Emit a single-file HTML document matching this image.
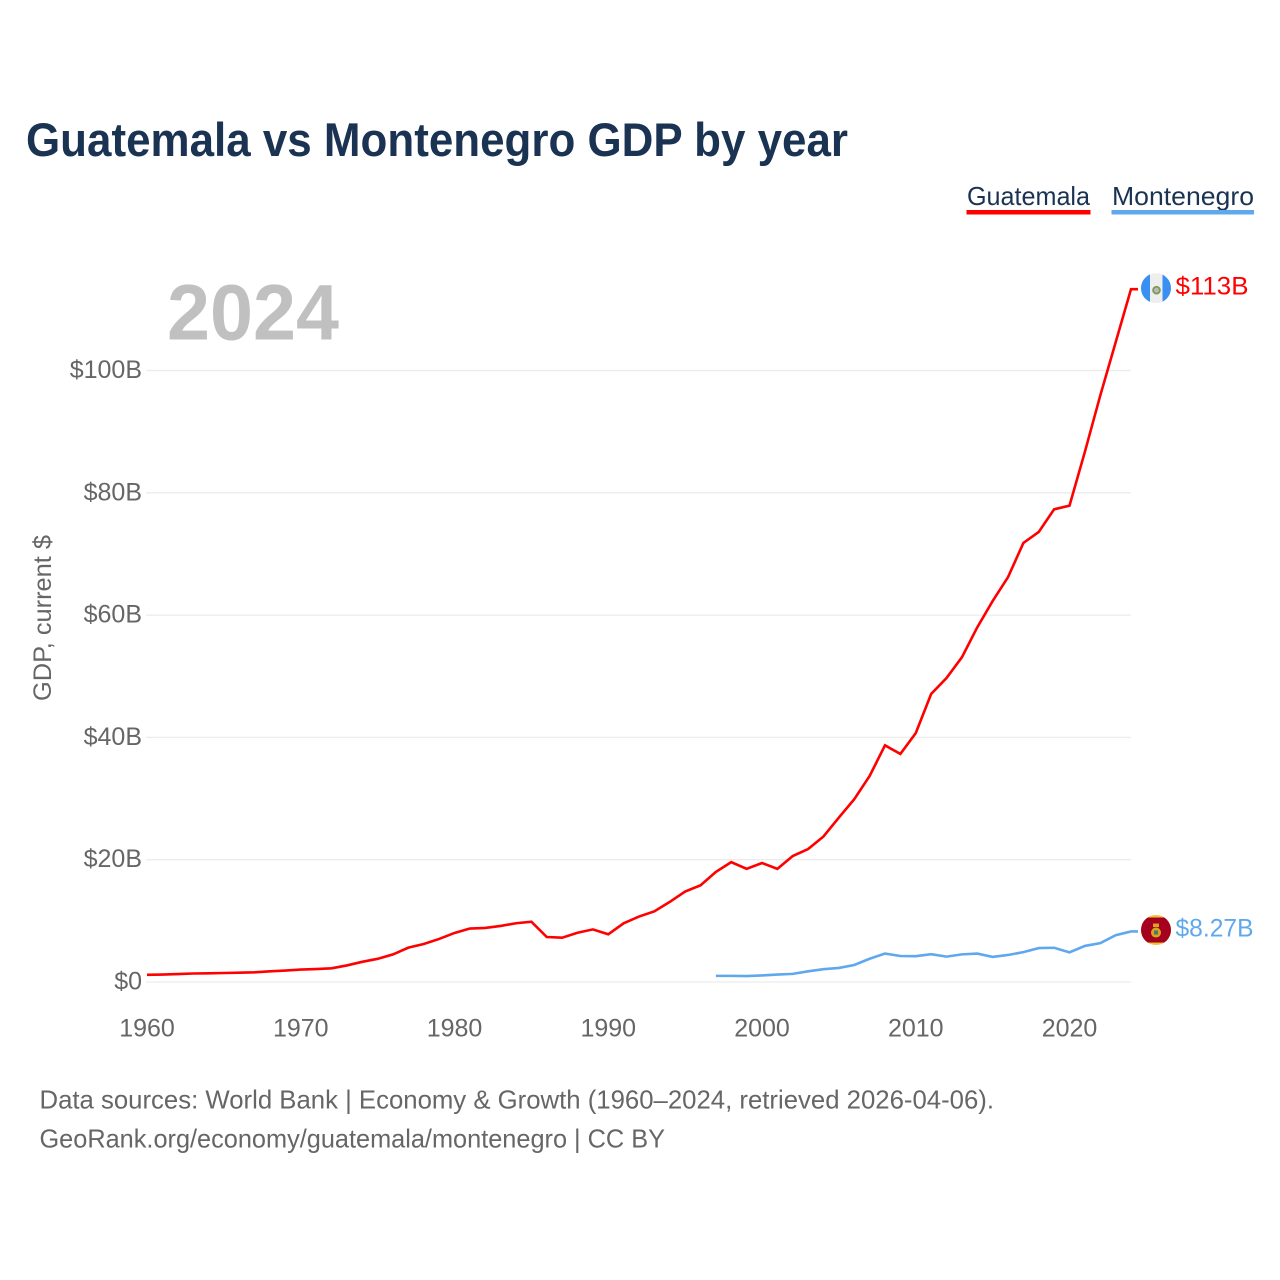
<!DOCTYPE html>
<html lang="en">
<head>
<meta charset="utf-8">
<title>Guatemala vs Montenegro GDP by year</title>
<style>
html,body{margin:0;padding:0;background:#fff;width:1280px;height:1280px;overflow:hidden}
svg{display:block}
text{font-family:"Liberation Sans",sans-serif}
</style>
</head>
<body>
<svg id="chart" xmlns="http://www.w3.org/2000/svg" width="1280" height="1280" viewBox="0 0 1280 1280">
  <rect width="1280" height="1280" fill="#ffffff"/>
  <text x="26" y="156" font-size="47" font-weight="700" fill="#1a3353" textLength="822" lengthAdjust="spacingAndGlyphs">Guatemala vs Montenegro GDP by year</text>

  <g>
    <g>
      <text x="967" y="205" font-size="26" fill="#1a3353" textLength="123" lengthAdjust="spacingAndGlyphs">Guatemala</text>
      <rect x="966.5" y="210" width="124" height="4.5" fill="#ff0000"/>
    </g>
    <g>
      <text x="1112" y="205" font-size="26" fill="#1a3353" textLength="142" lengthAdjust="spacingAndGlyphs">Montenegro</text>
      <rect x="1111.5" y="210" width="142.5" height="4.5" fill="#60a8ee"/>
    </g>
  </g>

  <text x="167" y="339.5" font-size="79" font-weight="700" fill="#c0c0c0" textLength="172" lengthAdjust="spacingAndGlyphs">2024</text>

  <g id="grid"></g>
  <g id="yticks"></g>
  <g id="xticks"></g>
  <text transform="translate(51,701) rotate(-90)" font-size="25" fill="#666666" textLength="166" lengthAdjust="spacingAndGlyphs">GDP, current $</text>

  <g id="series"></g>

  <g id="flag-gt">
    <clipPath id="clip-gt"><circle cx="0" cy="0" r="15"/></clipPath>
    <g clip-path="url(#clip-gt)">
      <rect x="-15" y="-15" width="30" height="30" fill="#eeeeee"/>
      <rect x="-15" y="-15" width="9" height="30" fill="#3a8ff2"/>
      <rect x="6.5" y="-15" width="8.5" height="30" fill="#3a8ff2"/>
    </g>
    <circle cx="0.5" cy="2" r="3.4" fill="#b9b9b9" stroke="#7d9a4e" stroke-width="1.8"/>
  </g>
  <g id="flag-me">
    <clipPath id="clip-me"><circle cx="0" cy="0" r="15"/></clipPath>
    <g clip-path="url(#clip-me)">
      <rect x="-15" y="-15" width="30" height="30" fill="#f0c23a"/>
      <rect x="-15" y="-12.5" width="30" height="25" fill="#a5001e"/>
    </g>
    <rect x="-3" y="-6.5" width="6" height="3.5" fill="#d8a520"/>
    <circle cx="0" cy="2.5" r="5" fill="#d8a520"/>
    <rect x="-2" y="0.5" width="4" height="4" fill="#4a7a66"/>
  </g>
  <g id="end-labels"></g>

  <g>
    <text x="39.5" y="1108.5" font-size="26" fill="#666666" textLength="954.5" lengthAdjust="spacingAndGlyphs">Data sources: World Bank | Economy &amp; Growth (1960–2024, retrieved 2026-04-06).</text>
    <text x="39.5" y="1147.5" font-size="26" fill="#666666" textLength="625.5" lengthAdjust="spacingAndGlyphs">GeoRank.org/economy/guatemala/montenegro | CC BY</text>
  </g>
</svg>
<script>
var guatemalaStartYear = 1960;
var guatemalaValues = [1.18,1.22,1.29,1.39,1.42,1.47,1.53,1.59,1.74,1.87,2.04,2.12,2.24,2.71,3.3,3.79,4.51,5.62,6.21,7.04,8.02,8.74,8.84,9.17,9.61,9.86,7.36,7.24,8.06,8.6,7.8,9.6,10.7,11.56,13.1,14.8,15.8,18.0,19.6,18.5,19.46,18.5,20.6,21.75,23.8,26.9,29.9,33.7,38.7,37.3,40.7,47.1,49.7,53.1,58.0,62.3,66.2,71.8,73.6,77.3,77.9,86.7,95.9,104.6,113.3];
var montenegroStartYear = 1997;
var montenegroValues = [1.0,1.0,0.97,1.08,1.22,1.33,1.75,2.1,2.3,2.78,3.8,4.65,4.25,4.22,4.55,4.15,4.52,4.65,4.1,4.42,4.88,5.55,5.6,4.85,5.9,6.35,7.65,8.27];
var yTickValues = [0,20,40,60,80,100];
var yTickLabels = ["$0","$20B","$40B","$60B","$80B","$100B"];
var xTickYears = [1960,1970,1980,1990,2000,2010,2020];
var endLabelGuatemala = "$113B";
var endLabelMontenegro = "$8.27B";

var NS = "http://www.w3.org/2000/svg";
function xScale(year){ return 147 + (year - 1960) * (1131 - 147) / 64; }
function yScale(v){ return 982 - v * 6.115; }

function make(tag, parentId, attrs, text){
  var el = document.createElementNS(NS, tag);
  for (var k in attrs) el.setAttribute(k, attrs[k]);
  if (text !== undefined) el.textContent = text;
  document.getElementById(parentId).appendChild(el);
  return el;
}

yTickValues.forEach(function(v, i){
  var line = make("line", "grid", {x1:146, x2:1131, y1:yScale(v), y2:yScale(v), stroke:"#ececec", "stroke-width":1.3});
  
  
  var label = make("text", "yticks", {x:142, y:yScale(v)+7.5, "text-anchor":"end", "font-size":25, fill:"#666666"}, yTickLabels[i]);
  
  
});

xTickYears.forEach(function(year){
  var label = make("text", "xticks", {x:xScale(year), y:1036.5, "text-anchor":"middle", "font-size":25, fill:"#666666"}, String(year));
  
  
});

function linePath(values, startYear){
  var d = "";
  values.forEach(function(v, i){
    d += (i ? "L" : "M") + xScale(startYear + i).toFixed(2) + " " + yScale(v).toFixed(2);
  });
  d += "L" + (xScale(startYear + values.length - 1) + 7).toFixed(2) + " " + yScale(values[values.length - 1]).toFixed(2);
  return d;
}

var redPath = make("path", "series", {d:linePath(guatemalaValues, guatemalaStartYear), fill:"none", stroke:"#ff0000", "stroke-width":2.6, "stroke-linejoin":"miter"});



var bluePath = make("path", "series", {d:linePath(montenegroValues, montenegroStartYear), fill:"none", stroke:"#60a8ee", "stroke-width":2.6, "stroke-linejoin":"miter"});



var gtY = yScale(guatemalaValues[guatemalaValues.length - 1]);
var meY = yScale(montenegroValues[montenegroValues.length - 1]);
document.getElementById("flag-gt").setAttribute("transform", "translate(1156," + (gtY - 1) + ")");
document.getElementById("flag-me").setAttribute("transform", "translate(1156," + (meY - 1.4) + ")");

var gtLabel = make("text", "end-labels", {x:1175.5, y:gtY + 5.5, "font-size":25, fill:"#ff0000", textLength:73, lengthAdjust:"spacingAndGlyphs"}, endLabelGuatemala);



var meLabel = make("text", "end-labels", {x:1175.5, y:meY + 5, "font-size":25, fill:"#60a8ee", textLength:78, lengthAdjust:"spacingAndGlyphs"}, endLabelMontenegro);


</script>
</body>
</html>
